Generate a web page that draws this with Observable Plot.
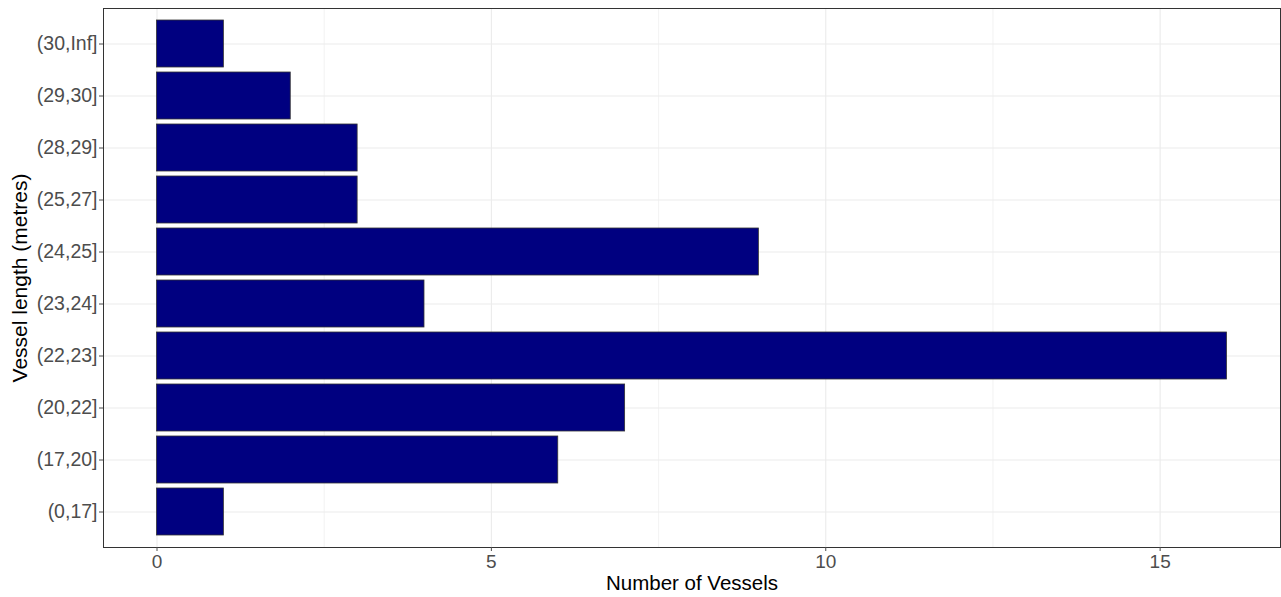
<!DOCTYPE html>
<html>
<head>
<meta charset="utf-8">
<script src="https://cdn.jsdelivr.net/npm/d3@7"></script>
<script src="https://cdn.jsdelivr.net/npm/@observablehq/plot@0.6"></script>
<style>
  html, body { margin: 0; padding: 0; background: #fff; }
</style>
</head>
<body>
<div id="chart"></div>
<script>
const categories = ["(0,17]", "(17,20]", "(20,22]", "(22,23]", "(23,24]", "(24,25]", "(25,27]", "(28,29]", "(29,30]", "(30,Inf]"];
const counts = [1, 6, 7, 16, 4, 9, 3, 3, 2, 1];
const xTicks = [0, 5, 10, 15];
const xMinorTicks = [2.5, 7.5, 12.5];
const xLabel = "Number of Vessels";
const yLabel = "Vessel length (metres)";

const chart = Plot.plot({
  width: 1281,
  height: 597,
  marginLeft: 103,
  marginRight: 1,
  marginTop: 8,
  marginBottom: 50,
  style: { fontFamily: "'Liberation Sans', Arial, sans-serif", background: "#fff" },
  x: { domain: [-0.8, 16.8] },
  y: { domain: categories.slice().reverse(), paddingInner: 0.1, paddingOuter: 0.15 },
  marks: [
    Plot.gridX({ ticks: xMinorTicks, stroke: "#ebebeb", strokeOpacity: 1, strokeWidth: 0.6 }),
    Plot.gridX({ ticks: xTicks, stroke: "#ebebeb", strokeOpacity: 1, strokeWidth: 1.1 }),
    Plot.gridY({ stroke: "#ebebeb", strokeOpacity: 1, strokeWidth: 1.1 }),
    Plot.barX(categories, { y: categories, x: counts, fill: "#000080", stroke: "#333333", strokeWidth: 0.8 }),
    Plot.frame({ stroke: "#333333", strokeWidth: 1 }),
    Plot.axisX({ ticks: xTicks, tickSize: 4, tickPadding: 3, fontSize: 19, color: "#4d4d4d", label: null }),
    Plot.axisY({ tickSize: 4, tickPadding: 2, fontSize: 19.5, color: "#4d4d4d", label: null }),
    Plot.text([xLabel], { text: d => d, frameAnchor: "bottom", textAnchor: "middle", lineAnchor: "middle", dy: 36, fontSize: 20.5, fill: "#000" }),
    Plot.text([yLabel], { text: d => d, frameAnchor: "left", textAnchor: "middle", lineAnchor: "middle", dx: -83, rotate: -90, fontSize: 21, fill: "#000" })
  ]
});
document.getElementById("chart").appendChild(chart);
</script>
</body>
</html>
